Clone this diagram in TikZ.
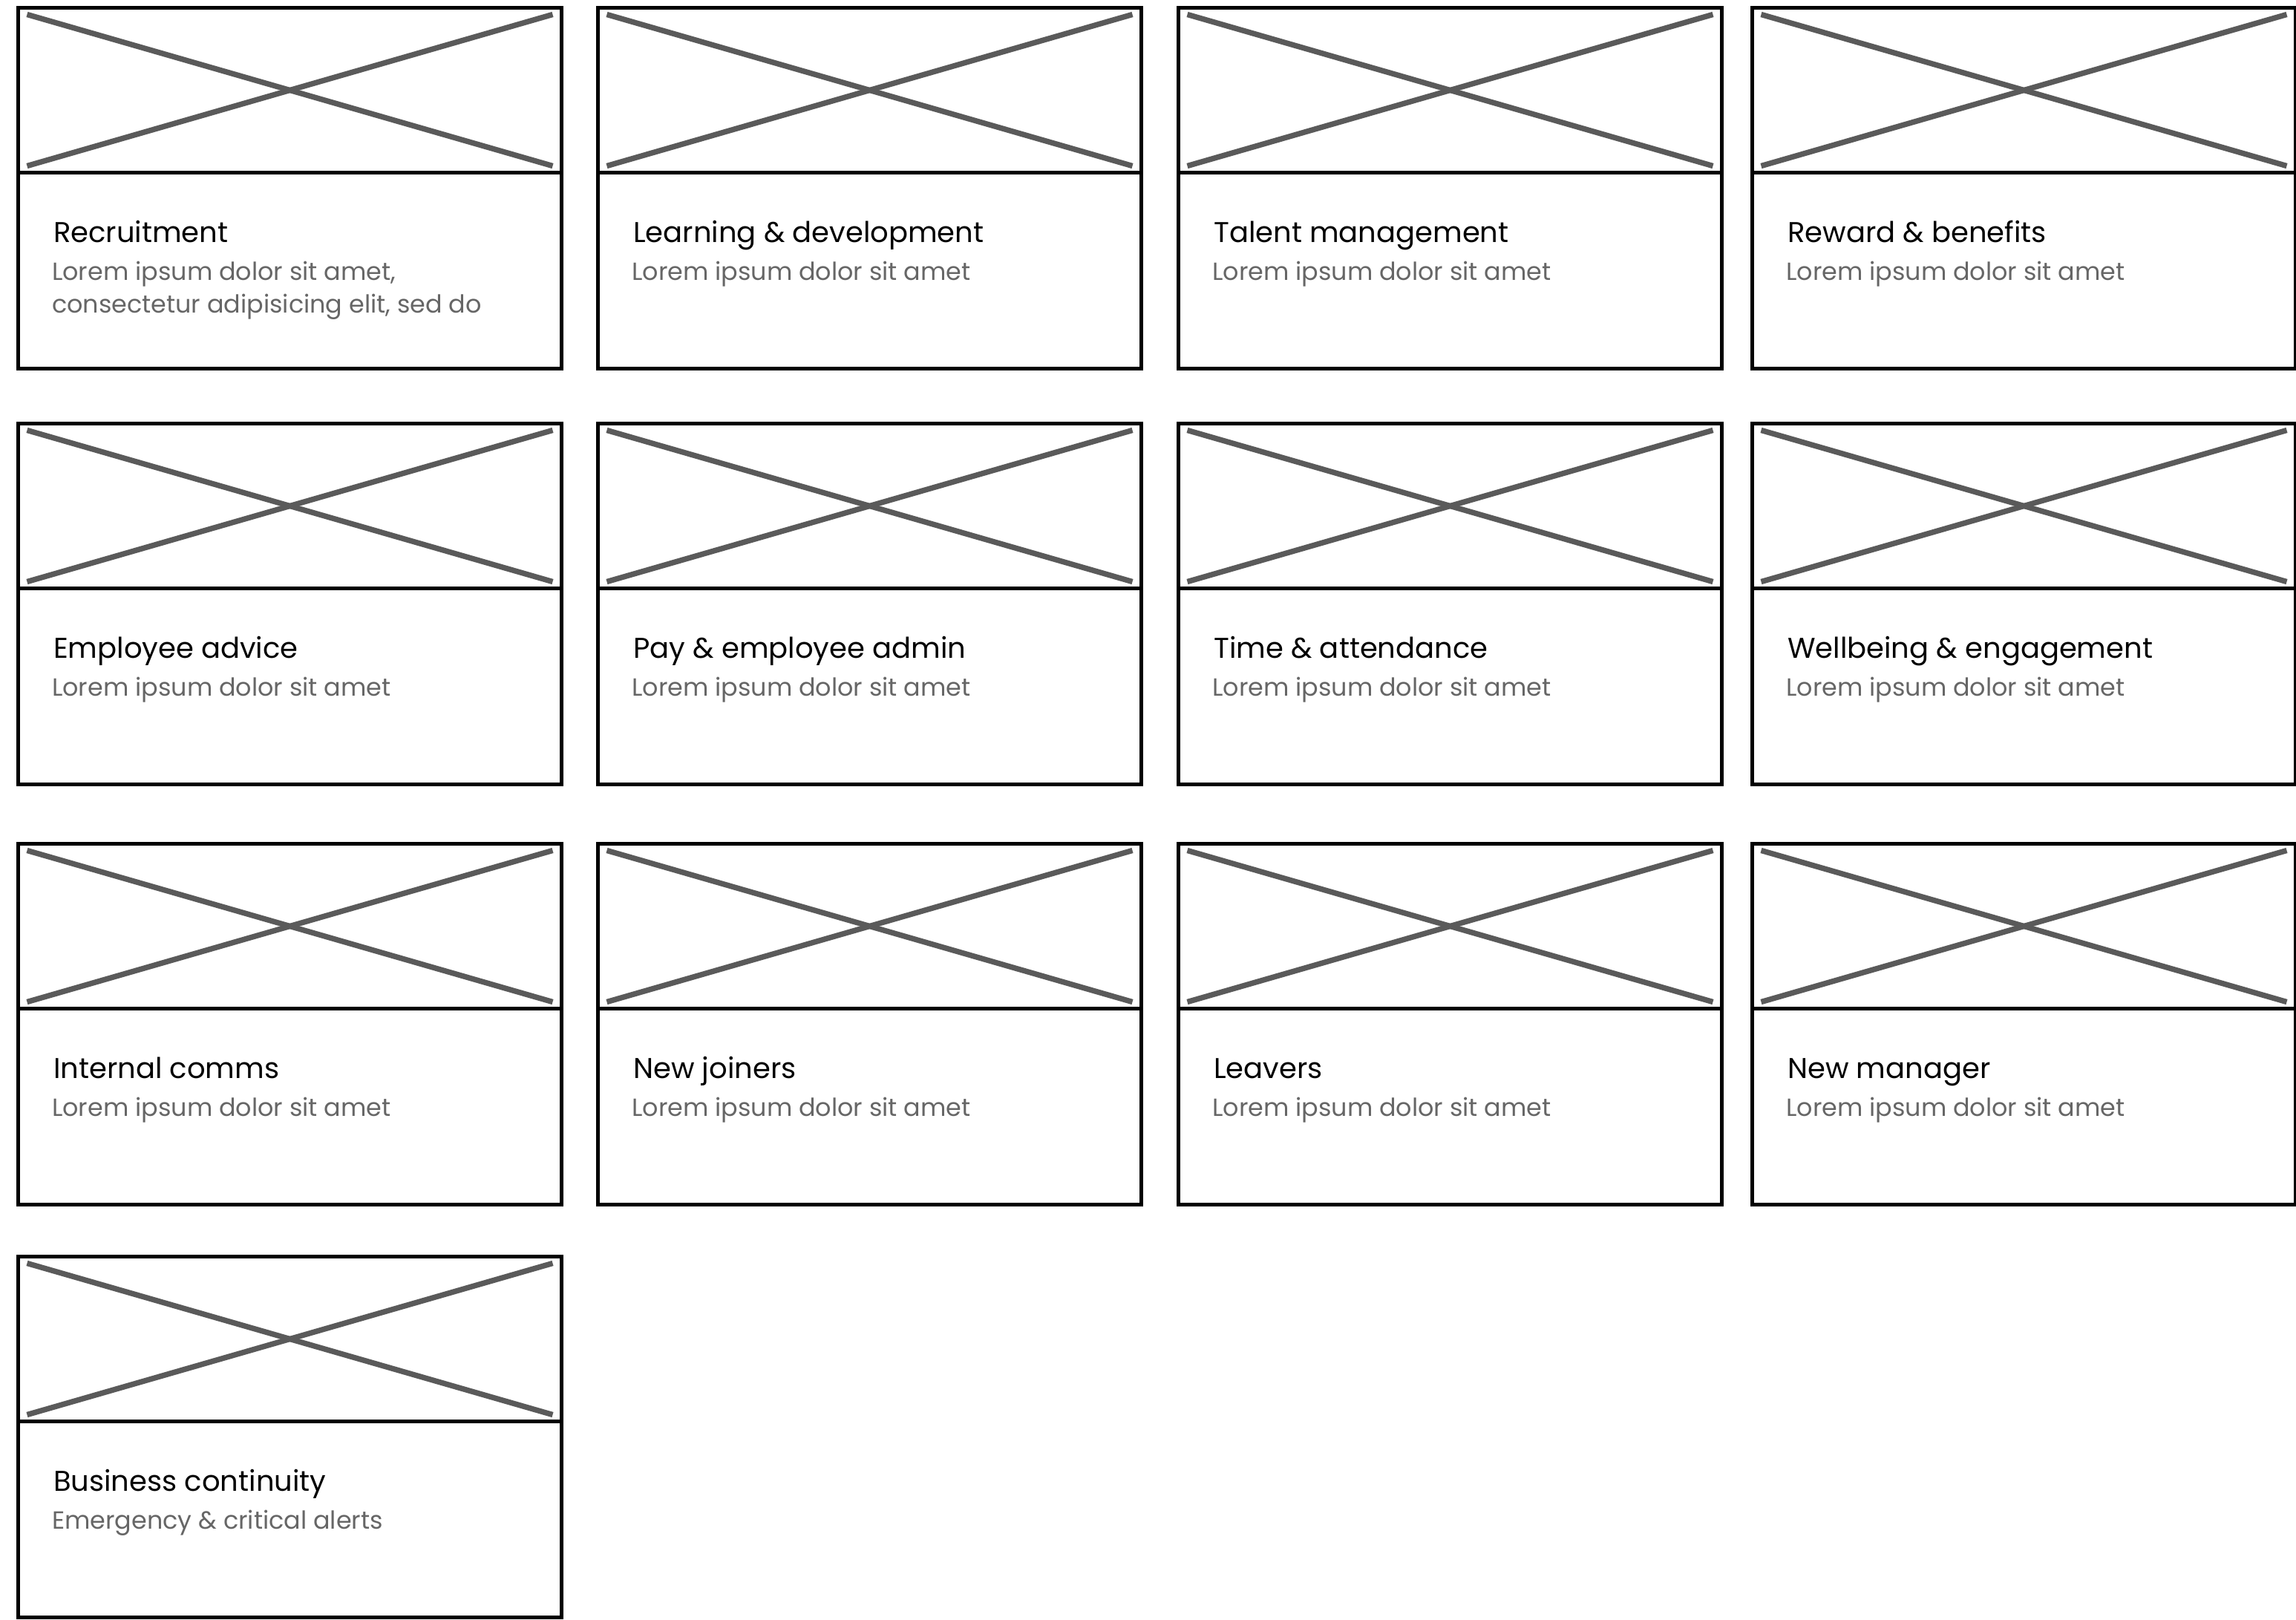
\documentclass[tikz,border=0pt]{standalone}
\usepackage{fontspec}
\setmainfont{Poppins}
\usetikzlibrary{positioning}
\definecolor{crossgray}{HTML}{5A5A5A}
\definecolor{subgray}{HTML}{666666}
\tikzset{
  imgbox/.style={draw,line width=1.6pt,minimum width=7.32cm,minimum height=2.22cm,inner sep=0pt,outer sep=0pt,anchor=north west},
  bodybox/.style={draw,line width=1.6pt,minimum width=7.32cm,minimum height=2.64cm,inner sep=0pt,outer sep=0pt},
  cross/.style={draw=crossgray,line width=2.1pt},
  cardtitle/.style={anchor=base west,inner sep=0pt,font=\fontsize{10.95}{14}\selectfont},
  cardtext/.style={anchor=base west,inner sep=0pt,text=subgray,align=left,font=\fontsize{9.5}{12.5}\selectfont},
}

\begin{document}
\begin{tikzpicture}

\useasboundingbox (0,0) rectangle (30.93,-21.82);

% cards: picture placeholder on top, text box below
\foreach \n/\px/\py in {1/0.245/-0.105, 2/8.055/-0.105, 3/15.875/-0.105, 4/23.605/-0.105,
                        5/0.245/-5.705, 6/8.055/-5.705, 7/15.875/-5.705, 8/23.605/-5.705,
                        9/0.245/-11.365, 10/8.055/-11.365, 11/15.875/-11.365, 12/23.605/-11.365,
                        13/0.245/-16.925} {
  \node[imgbox] (im\n) at (\px,\py) {};
  \node[bodybox,below=0pt of im\n] (bd\n) {};
  \draw[cross] ([shift={(0.12,-0.09)}]im\n.north west) -- ([shift={(-0.12,0.09)}]im\n.south east);
  \draw[cross] ([shift={(0.12,0.09)}]im\n.south west) -- ([shift={(-0.12,-0.09)}]im\n.north east);
}

% titles and captions
\node[cardtitle] (t1) at ([shift={(0.47,-0.94)}]bd1.north west) {Recruitment};
\node[cardtext] (s1) at ([shift={(0.45,-1.89)}]bd1.north west) {Lorem ipsum dolor sit amet,\\consectetur adipisicing elit, sed do};
\node[cardtitle] (t2) at ([shift={(0.47,-0.94)}]bd2.north west) {Learning \& development};
\node[cardtext] (s2) at ([shift={(0.45,-1.45)}]bd2.north west) {Lorem ipsum dolor sit amet};
\node[cardtitle] (t3) at ([shift={(0.47,-0.94)}]bd3.north west) {Talent management};
\node[cardtext] (s3) at ([shift={(0.45,-1.45)}]bd3.north west) {Lorem ipsum dolor sit amet};
\node[cardtitle] (t4) at ([shift={(0.47,-0.94)}]bd4.north west) {Reward \& benefits};
\node[cardtext] (s4) at ([shift={(0.45,-1.45)}]bd4.north west) {Lorem ipsum dolor sit amet};

\node[cardtitle] (t5) at ([shift={(0.47,-0.94)}]bd5.north west) {Employee advice};
\node[cardtext] (s5) at ([shift={(0.45,-1.45)}]bd5.north west) {Lorem ipsum dolor sit amet};
\node[cardtitle] (t6) at ([shift={(0.47,-0.94)}]bd6.north west) {Pay \& employee admin};
\node[cardtext] (s6) at ([shift={(0.45,-1.45)}]bd6.north west) {Lorem ipsum dolor sit amet};
\node[cardtitle] (t7) at ([shift={(0.47,-0.94)}]bd7.north west) {Time \& attendance};
\node[cardtext] (s7) at ([shift={(0.45,-1.45)}]bd7.north west) {Lorem ipsum dolor sit amet};
\node[cardtitle] (t8) at ([shift={(0.47,-0.94)}]bd8.north west) {Wellbeing \& engagement};
\node[cardtext] (s8) at ([shift={(0.45,-1.45)}]bd8.north west) {Lorem ipsum dolor sit amet};

\node[cardtitle] (t9) at ([shift={(0.47,-0.94)}]bd9.north west) {Internal comms};
\node[cardtext] (s9) at ([shift={(0.45,-1.45)}]bd9.north west) {Lorem ipsum dolor sit amet};
\node[cardtitle] (t10) at ([shift={(0.47,-0.94)}]bd10.north west) {New joiners};
\node[cardtext] (s10) at ([shift={(0.45,-1.45)}]bd10.north west) {Lorem ipsum dolor sit amet};
\node[cardtitle] (t11) at ([shift={(0.47,-0.94)}]bd11.north west) {Leavers};
\node[cardtext] (s11) at ([shift={(0.45,-1.45)}]bd11.north west) {Lorem ipsum dolor sit amet};
\node[cardtitle] (t12) at ([shift={(0.47,-0.94)}]bd12.north west) {New manager};
\node[cardtext] (s12) at ([shift={(0.45,-1.45)}]bd12.north west) {Lorem ipsum dolor sit amet};

\node[cardtitle] (t13) at ([shift={(0.47,-0.94)}]bd13.north west) {Business continuity};
\node[cardtext] (s13) at ([shift={(0.45,-1.45)}]bd13.north west) {Emergency \& critical alerts};

\end{tikzpicture}
\end{document}
